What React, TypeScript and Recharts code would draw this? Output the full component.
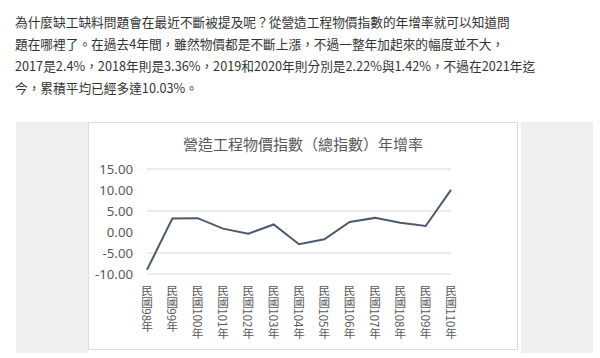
import React from "react";
import { LineChart, Line, XAxis, YAxis, CartesianGrid } from "recharts";

const introLines = [
  "為什麼缺工缺料問題會在最近不斷被提及呢？從營造工程物價指數的年增率就可以知道問",
  "題在哪裡了。在過去4年間，雖然物價都是不斷上漲，不過一整年加起來的幅度並不大，",
  "2017是2.4%，2018年則是3.36%，2019和2020年則分別是2.22%與1.42%，不過在2021年迄",
  "今，累積平均已經多達10.03%。",
];

const chartTitle = "營造工程物價指數（總指數）年增率";

const years = [
  "民國98年", "民國99年", "民國100年", "民國101年", "民國102年", "民國103年", "民國104年",
  "民國105年", "民國106年", "民國107年", "民國108年", "民國109年", "民國110年",
];

const growthRates = [-9.0, 3.2, 3.3, 0.8, -0.4, 1.8, -2.9, -1.75, 2.4, 3.36, 2.22, 1.42, 10.03];

const yTicks = [-10, -5, 0, 5, 10, 15];

const data = years.map((name, i) => ({ name, rate: growthRates[i] }));

const CJK = '"Noto Sans CJK TC", "Noto Sans", sans-serif';

function VerticalTick(props: any) {
  const { x, y, payload } = props;
  return (
    <text
      x={x}
      y={y + 3}
      fill="#595959"
      fontSize={11.6}
      fontFamily={CJK}
      style={{ writingMode: "vertical-rl" } as any}
    >
      {payload.value}
    </text>
  );
}

export default function App() {
  return (
    <div
      style={{
        position: "absolute",
        left: 0,
        top: 0,
        width: 600,
        height: 358,
        background: "#fff",
        overflow: "hidden",
        fontFamily: CJK,
      }}
    >
      <div style={{ position: "absolute", left: 15, top: 11, color: "#333", fontSize: 12.7 }}>
        {introLines.map((l, i) => (
          <div key={i} style={{ height: 22, lineHeight: "22px", whiteSpace: "nowrap" }}>
            {l}
          </div>
        ))}
      </div>

      <div style={{ position: "absolute", left: 16, top: 122, width: 72, height: 231, background: "#efefef" }} />
      <div style={{ position: "absolute", left: 521, top: 122, width: 72, height: 231, background: "#efefef" }} />

      <div
        style={{
          position: "absolute",
          left: 88,
          top: 122,
          width: 430,
          height: 228,
          background: "#fff",
          boxSizing: "border-box",
          border: "1px solid #dcdcdc",
        }}
      >
        <div
          style={{
            position: "absolute",
            left: 0,
            width: 428,
            top: 11,
            textAlign: "center",
            fontSize: 15,
            lineHeight: "20px",
            color: "#595959",
          }}
        >
          {chartTitle}
        </div>
        <div style={{ position: "absolute", left: -1, top: -1 }}>
          <LineChart
            width={430}
            height={228}
            data={data}
            margin={{ top: 47, right: 67, left: 0, bottom: 6 }}
          >
            <CartesianGrid vertical={false} stroke="#d9d9d9" />
            <XAxis
              dataKey="name"
              axisLine={false}
              tickLine={false}
              height={70}
              interval={0}
              tick={<VerticalTick />}
            />
            <YAxis
              domain={[-10, 15]}
              ticks={yTicks}
              width={59}
              axisLine={false}
              tickLine={false}
              tickSize={0}
              tickMargin={14}
              tickFormatter={(v: number) => v.toFixed(2)}
              tick={{ fill: "#595959", fontSize: 13.2, fontFamily: '"Noto Sans", sans-serif' }}
            />
            <Line
              type="linear"
              dataKey="rate"
              stroke="#4b5a70"
              strokeWidth={2}
              dot={false}
              isAnimationActive={false}
            />
          </LineChart>
        </div>
      </div>
    </div>
  );
}
